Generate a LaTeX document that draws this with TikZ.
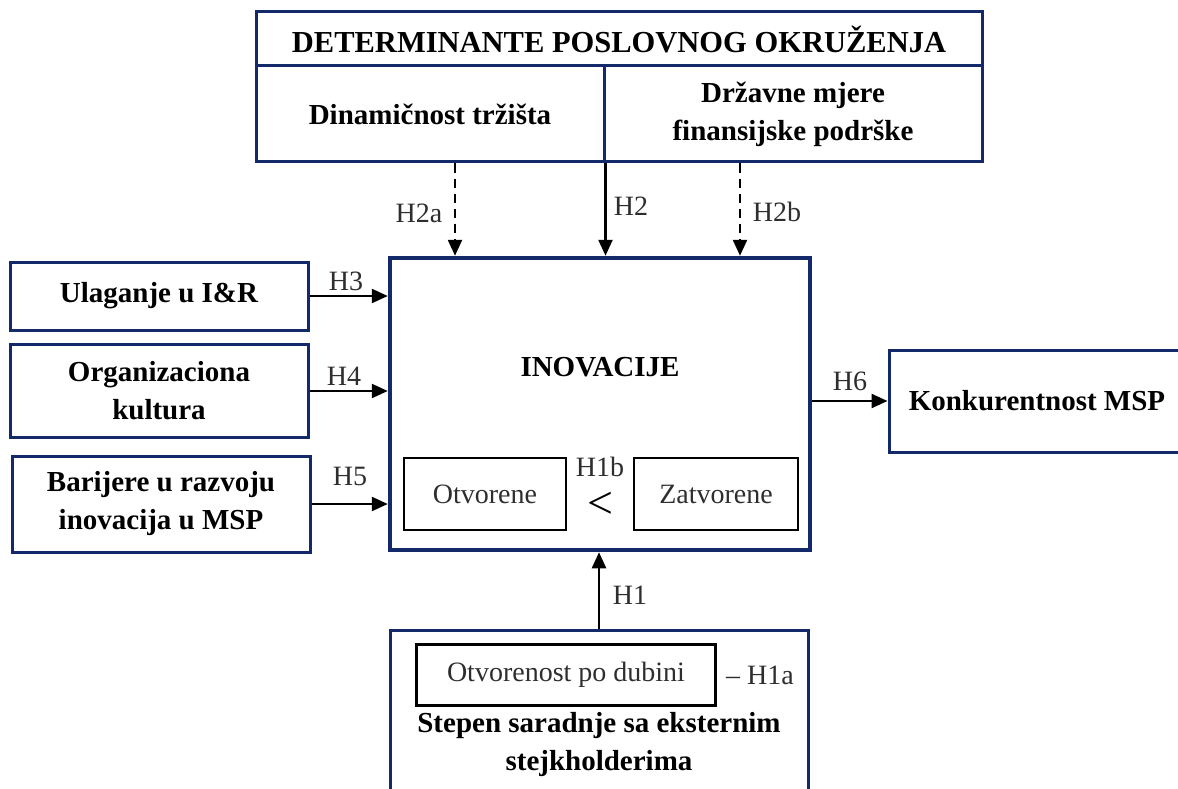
\documentclass[tikz,border=0pt]{standalone}
\usepackage{fontspec}
\setmainfont{Liberation Serif}
\usetikzlibrary{arrows.meta,calc}
\definecolor{navy}{HTML}{14296A}
\definecolor{lbl}{HTML}{2E2E2E}
\begin{document}
\begin{tikzpicture}[x=1pt,y=-1pt,
  bigtxt/.style={font=\fontsize{29}{38}\selectfont\bfseries, align=center, text=black},
  navybox/.style={draw=navy, line width=3pt, inner sep=0pt, bigtxt},
  mainbox/.style={draw=navy, line width=4.5pt, inner sep=0pt},
  innerbox/.style={draw=black, line width=2.4pt, inner sep=0pt, font=\fontsize{28}{32}\selectfont, text=lbl},
  hlabel/.style={font=\fontsize{28}{30}\selectfont, text=lbl, inner sep=0pt},
  arr/.style={line width=2.4pt, -{Triangle[length=16pt,width=14pt]}},
  darr/.style={arr, dash pattern=on 9pt off 6pt}
]
\useasboundingbox (0,0) rectangle (1178,789);
% top box
\node[navybox, minimum width=726, minimum height=54, font=\fontsize{30.5}{38}\selectfont\bfseries] (hdr) at (619,39) {DETERMINANTE POSLOVNOG OKRUŽENJA};
\node[navybox, minimum width=348, minimum height=96] (dyn) at (430,114) {Dinamičnost tržišta};
\node[navybox, minimum width=378, minimum height=96] (drz) at (793,114) {Državne mjere\\finansijske podrške};
% main box
\node[mainbox, minimum width=420, minimum height=292] (inov) at (600,404) {};
\node[bigtxt] (inovt) at (600,367) {INOVACIJE};
\node[innerbox, minimum width=162, minimum height=72] (otv) at (485,494) {Otvorene};
\node[innerbox, minimum width=164, minimum height=72] (zat) at (716,494) {Zatvorene};
\node[hlabel] (h1b) at (600,467) {H1b};
\node[font=\fontsize{46}{46}\selectfont, text=black, inner sep=0pt] (lt) at (600,505) {<};
% left boxes
\node[navybox, minimum width=298, minimum height=68] (ul) at (159,296) {Ulaganje u I\&R};
\node[navybox, minimum width=298, minimum height=93] (org) at (159,391) {Organizaciona\\kultura};
\node[navybox, minimum width=298, minimum height=96] (bar) at (161,504) {Barijere u razvoju\\inovacija u MSP};
% right box
\node[navybox, minimum width=296, minimum height=102] (kon) at (1037,401) {Konkurentnost MSP};
% bottom box
\node[navybox, minimum width=418, minimum height=170] (step) at (599,715) {};
\node[innerbox, minimum width=299, minimum height=61] (otvd) at (566,675) {Otvorenost po dubini};
\node[hlabel] (h1a) at (760,675) {– H1a};
\node[bigtxt] (stept) at (599,745) {Stepen saradnje sa eksternim\\stejkholderima};
% arrows from top
\draw[darr] (455,0 |- dyn.south) -- (455,0 |- inov.north);
\draw[arr] (dyn.south east) -- (dyn.south east |- inov.north);
\draw[darr] (740,0 |- drz.south) -- (740,0 |- inov.north);
\node[hlabel] (h2a) at (419,213) {H2a};
\node[hlabel] (h2) at (631,206) {H2};
\node[hlabel] (h2b) at (777,212) {H2b};
% left arrows
\draw[arr] (ul.east) -- (inov.west |- ul.east);
\draw[arr] (org.east) -- (inov.west |- org.east);
\draw[arr] (bar.east) -- (inov.west |- bar.east);
\node[hlabel] (h3) at (346,281) {H3};
\node[hlabel] (h4) at (344,376) {H4};
\node[hlabel] (h5) at (350,476) {H5};
% right arrow
\draw[arr] (inov.east |- kon.west) -- (kon.west);
\node[hlabel] (h6) at (850,381) {H6};
% bottom arrow
\draw[arr] (step.north) -- (step.north |- inov.south);
\node[hlabel] (h1) at (630,595) {H1};
\end{tikzpicture}
\end{document}
